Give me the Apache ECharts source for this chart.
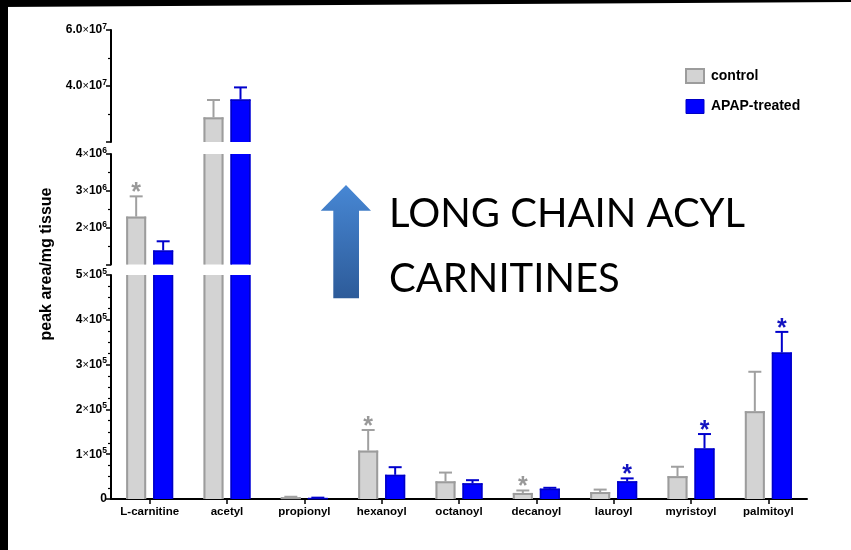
<!DOCTYPE html>
<html>
<head>
<meta charset="utf-8">
<script src="https://cdn.jsdelivr.net/npm/echarts@6/dist/echarts.min.js"></script>
<style>
  html, body { margin: 0; padding: 0; background: #fff; }
  #chart { width: 851px; height: 550px; }
</style>
</head>
<body>
<div id="chart"></div>
<script>
// Acylcarnitine levels per mg tissue, control vs APAP-treated (mean ± SEM)
const categories = ['L-carnitine', 'acetyl', 'propionyl', 'hexanoyl', 'octanoyl', 'decanoyl', 'lauroyl', 'myristoyl', 'palmitoyl'];
const controlMean = [2.3e6, 2.88e7, 4000, 1.08e5, 3.95e4, 1.35e4, 1.55e4, 5.1e4, 1.96e5];
const controlSem  = [5.5e5, 6.2e6, 1000, 4.6e4, 1.95e4, 5500, 5500, 2.1e4, 8.8e4];
const apapMean    = [1.38e6, 3.52e7, 2500, 5.4e4, 3.5e4, 2.3e4, 3.95e4, 1.13e5, 3.27e5];
const apapSem     = [2.5e5, 4.3e6, 500, 1.7e4, 7000, 2000, 6500, 3.2e4, 4.6e4];
// significance markers (*)
const controlSig = [true, false, false, true, false, true, false, false, false];
const apapSig    = [false, false, false, false, false, false, true, true, true];
// labelled ticks of each y-axis segment
const ticksTop    = [4e7, 6e7];
const ticksMiddle = [2e6, 3e6, 4e6];
const ticksBottom = [0, 1e5, 2e5, 3e5, 4e5, 5e5];

const FONT = '"Liberation Sans", Arial, sans-serif';
const CTRL_FILL = '#d3d3d3', CTRL_EDGE = '#9c9c9c';
const APAP_FILL = '#0000ff', APAP_EDGE = '#0000c4';

// broken y-axis: three stacked grids sharing the category axis
const segments = [
  { min: 2e7, max: 6e7, interval: 2e7, top: 30,  height: 112,   exp: 7, split: 2, ticks: ticksTop,    fixed: 1 },
  { min: 1e6, max: 4e6, interval: 1e6, top: 154, height: 110.5, exp: 6, split: 2, ticks: ticksMiddle, fixed: 0 },
  { min: 0,   max: 5e5, interval: 1e5, top: 275, height: 224,   exp: 5, split: 4, ticks: ticksBottom, fixed: 0 }
];

const BAR_W = 20, BAR_GAP = '35%';
const OFFSET = 13.5;

function tickLabel(seg) {
  return function (v) {
    if (!seg.ticks.some(t => Math.abs(t - v) < seg.interval * 1e-6)) return '';
    if (v === 0) return '{a|0}';
    const m = (v / Math.pow(10, seg.exp)).toFixed(seg.fixed);
    return '{a|' + m + '}{x|×}{a|10}{s|' + seg.exp + '}';
  };
}

// bar outline (sides always, top only where the bar ends inside the segment),
// error bar and significance star
function overlaySeries(name, means, sems, sigs, edge, edgeW, errColor, starColor, offset, gi, seg) {
  return {
    type: 'custom',
    name: name,
    xAxisIndex: gi,
    yAxisIndex: gi,
    z: 5,
    silent: true,
    encode: { x: 0, y: 1 },
    data: categories.map((c, i) => [i, means[i], sems[i], sigs[i] ? 1 : 0]),
    renderItem: function (params, api) {
      const cs = params.coordSys;
      const i = api.value(0), m = api.value(1), s = api.value(2), sig = api.value(3);
      const pBase = api.coord([i, 0]);
      const pTop = api.coord([i, m]);
      const cx = pTop[0] + offset;
      const half = BAR_W / 2;
      const yLow = Math.min(pBase[1], cs.y + cs.height);
      const yHigh = Math.max(pTop[1], cs.y);
      const children = [];
      if (yHigh < yLow) {
        const xl = cx - half + edgeW / 2, xr = cx + half - edgeW / 2;
        const ls = { stroke: edge, lineWidth: edgeW };
        children.push({ type: 'line', shape: { x1: xl, y1: yLow, x2: xl, y2: yHigh }, style: ls });
        children.push({ type: 'line', shape: { x1: xr, y1: yLow, x2: xr, y2: yHigh }, style: ls });
        if (pTop[1] >= cs.y) {
          children.push({ type: 'line', shape: { x1: cx - half, y1: pTop[1] + edgeW / 2, x2: cx + half, y2: pTop[1] + edgeW / 2 }, style: ls });
        }
      }
      if (m >= seg.min && m <= seg.max) {
        const p1 = api.coord([i, m + s]);
        const es = { stroke: errColor, lineWidth: 2 };
        children.push({ type: 'line', shape: { x1: cx, y1: pTop[1], x2: cx, y2: p1[1] }, style: es });
        children.push({ type: 'line', shape: { x1: cx - 6.5, y1: p1[1], x2: cx + 6.5, y2: p1[1] }, style: es });
        if (sig) {
          children.push({
            type: 'text',
            style: {
              text: '*', x: cx, y: p1[1] - 3,
              font: 'bold 25px ' + FONT, fill: starColor,
              align: 'center', verticalAlign: 'middle'
            }
          });
        }
      }
      return { type: 'group', children: children };
    }
  };
}

const grids = [], xAxes = [], yAxes = [], series = [];
segments.forEach((seg, gi) => {
  const last = gi === segments.length - 1;
  grids.push({ left: 111, right: 44, top: seg.top, height: seg.height });
  xAxes.push({
    type: 'category', gridIndex: gi, data: categories, show: last,
    axisLine: { show: last, lineStyle: { color: '#000', width: 2 } },
    axisTick: { show: last, alignWithLabel: true, length: 5, lineStyle: { color: '#000', width: 1.5 } },
    axisLabel: { show: last, color: '#000', fontFamily: FONT, fontWeight: 'bold', fontSize: 11.5, margin: 7 }
  });
  yAxes.push({
    type: 'value', gridIndex: gi, min: seg.min, max: seg.max, interval: seg.interval,
    splitLine: { show: false },
    axisLine: { show: true, onZero: false, lineStyle: { color: '#000', width: 2 } },
    axisTick: { show: true, length: 5, lineStyle: { color: '#000', width: 1.5 } },
    minorTick: { show: true, splitNumber: seg.split, length: 3, lineStyle: { color: '#000', width: 1.2 } },
    axisLabel: {
      margin: 4, formatter: tickLabel(seg),
      rich: {
        a: { fontFamily: FONT, fontWeight: 'bold', fontSize: 12, color: '#000' },
        x: { fontFamily: FONT, fontSize: 11, color: '#000' },
        s: { fontFamily: FONT, fontWeight: 'bold', fontSize: 8.5, color: '#000', padding: [0, 0, 7, 0] }
      }
    }
  });
  series.push({
    type: 'bar', name: 'control', xAxisIndex: gi, yAxisIndex: gi,
    data: controlMean, barWidth: BAR_W, barGap: BAR_GAP, clip: true,
    itemStyle: { color: CTRL_FILL }
  });
  series.push({
    type: 'bar', name: 'APAP-treated', xAxisIndex: gi, yAxisIndex: gi,
    data: apapMean, barWidth: BAR_W, barGap: BAR_GAP, clip: true,
    itemStyle: { color: APAP_FILL }
  });
  series.push(overlaySeries('control', controlMean, controlSem, controlSig, CTRL_EDGE, 2, '#a0a0a0', '#999999', -OFFSET, gi, seg));
  series.push(overlaySeries('APAP-treated', apapMean, apapSem, apapSig, APAP_EDGE, 1.5, '#0000cc', '#1414c0', OFFSET, gi, seg));
});

const chart = echarts.init(document.getElementById('chart'), null, { renderer: 'canvas' });
chart.setOption({
  animation: false,
  backgroundColor: '#fff',
  grid: grids,
  xAxis: xAxes,
  yAxis: yAxes,
  series: series,
  legend: {
    orient: 'vertical', left: 685, top: 68, padding: 0,
    itemWidth: 18, itemHeight: 14, itemGap: 15, icon: 'rect',
    textStyle: { fontFamily: FONT, fontWeight: 'bold', fontSize: 14, color: '#000', padding: [0, 0, 0, 2] },
    data: [
      { name: 'control', itemStyle: { color: CTRL_FILL, borderColor: CTRL_EDGE, borderWidth: 2 } },
      { name: 'APAP-treated', itemStyle: { color: APAP_FILL, borderColor: APAP_EDGE, borderWidth: 1 } }
    ]
  },
  graphic: [
    // dark frame edges
    { type: 'rect', shape: { x: 0, y: 0, width: 8, height: 550 }, style: { fill: '#000' }, silent: true },
    { type: 'polygon', shape: { points: [[0, 0], [851, 0], [851, 2], [0, 7]] }, style: { fill: '#000' }, silent: true },
    // y-axis title
    {
      type: 'text', x: 47, y: 264, rotation: Math.PI / 2,
      style: { text: 'peak area/mg tissue', font: 'bold 16px ' + FONT, fill: '#000', align: 'center', verticalAlign: 'middle' }
    },
    // upward arrow
    {
      type: 'polygon',
      shape: { points: [[346, 185], [371, 210.7], [359, 210.7], [359, 298.3], [333.3, 298.3], [333.3, 210.7], [320.7, 210.7]] },
      style: {
        fill: new echarts.graphic.LinearGradient(0, 0, 0, 1, [
          { offset: 0, color: '#4787d4' },
          { offset: 1, color: '#2d5b99' }
        ])
      }
    },
    {
      type: 'text', x: 389, y: 214,
      style: { text: 'LONG CHAIN ACYL', font: '40px Lato, "Open Sans", sans-serif', fill: '#000', verticalAlign: 'middle' }
    },
    {
      type: 'text', x: 389, y: 279,
      style: { text: 'CARNITINES', font: '40px Lato, "Open Sans", sans-serif', fill: '#000', verticalAlign: 'middle' }
    }
  ]
});
</script>
</body>
</html>
